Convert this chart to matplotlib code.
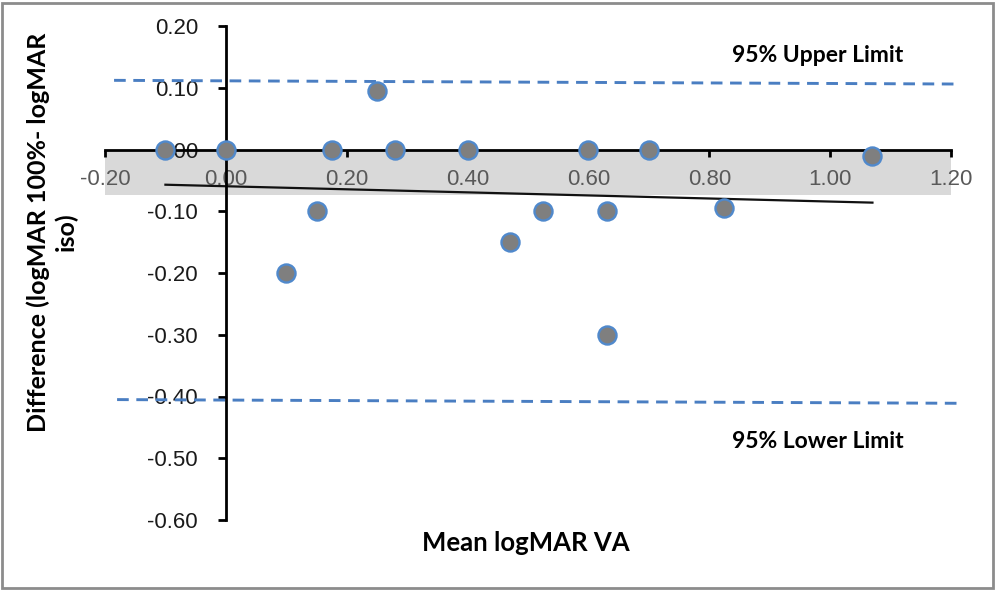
import numpy as np
import matplotlib.pyplot as plt
from matplotlib.patches import Rectangle

# Média e diferença (logMAR)
media = [-0.10, 0.00, 0.10, 0.15, 0.175, 0.25, 0.28, 0.40, 0.47, 0.525,
         0.60, 0.63, 0.63, 0.70, 0.825, 1.07]
diferenca = [0.00, 0.00, -0.20, -0.10, 0.00, 0.095, 0.00, 0.00, -0.15, -0.10,
             0.00, -0.10, -0.30, 0.00, -0.095, -0.01]

# Viés médio (faixa cinza) e limites de concordância
vies = -0.074
lim_sup_x = [-0.185, 1.215]
lim_sup_y = [0.112, 0.106]
lim_inf_x = [-0.18, 1.215]
lim_inf_y = [-0.405, -0.411]

# Linha de tendência (inclinação e intercepto)
tend_a = -0.0248
tend_b = -0.0595

xticks = [-0.20, 0.00, 0.20, 0.40, 0.60, 0.80, 1.00, 1.20]
yticks = [0.20, 0.10, 0.00, -0.10, -0.20, -0.30, -0.40, -0.50, -0.60]

W, H = 998, 591
fig = plt.figure(figsize=(W / 100, H / 100), dpi=100)
ax = fig.add_axes([105 / W, 1 - 520 / H, 846 / W, 494 / H])
ax.set_xlim(-0.20, 1.20)
ax.set_ylim(-0.60, 0.20)

# faixa do viés
ax.fill_between([-0.20, 1.20], 0, vies, color="#d9d9d9", zorder=0, lw=0)

# limites de 95%
azul = "#4a7ec2"
ax.plot(lim_sup_x, lim_sup_y, color=azul, lw=2.1, dashes=(4.0, 2.6), clip_on=False, zorder=2)
ax.plot(lim_inf_x, lim_inf_y, color=azul, lw=2.1, dashes=(4.0, 2.6), clip_on=False, zorder=2)

# linha de tendência
tx = np.array([min(media), max(media)])
ax.plot(tx, tend_a * tx + tend_b, color="#111111", lw=1.6, zorder=3)

# pontos
ax.plot(media, diferenca, "o", ms=13, mfc="#7f7f7f", mec="#5089cc", mew=1.7,
        clip_on=False, zorder=6)

# eixos cruzando em zero
for s in ("top", "right"):
    ax.spines[s].set_visible(False)
ax.spines["left"].set_position(("data", 0))
ax.spines["bottom"].set_position(("data", 0))
for s in ("left", "bottom"):
    ax.spines[s].set_linewidth(2)
    ax.spines[s].set_color("black")
    ax.spines[s].set_zorder(4)

ax.set_xticks(xticks)
ax.set_yticks(yticks)
ax.set_xticklabels([f"{v:.2f}" for v in xticks])
ax.set_yticklabels([f"{v:.2f}" for v in yticks])
ax.tick_params(axis="x", direction="out", length=5, width=2, pad=9,
               labelsize=16, labelcolor="#595959")
ax.tick_params(axis="y", direction="out", length=6, width=2, pad=14,
               labelsize=16, labelcolor="#1a1a1a")
for t in ax.get_xticklabels() + ax.get_yticklabels():
    t.set_fontfamily("Liberation Sans")
ax.patch.set_alpha(0)

fonte = dict(family="Lato", weight="bold", color="black")
fig.text(818 / W, 1 - 55 / H, "95% Upper Limit", ha="center", va="center", fontsize=16.5, **fonte)
fig.text(818 / W, 1 - 441 / H, "95% Lower Limit", ha="center", va="center", fontsize=16.5, **fonte)
fig.text(526 / W, 1 - 543 / H, "Mean logMAR VA", ha="center", va="center", fontsize=18.5, **fonte)
fig.text(52 / W, 1 - 232 / H, "Difference (logMAR 100%- logMAR\niso)", ha="center",
         va="center", rotation=90, multialignment="center", linespacing=1.2,
         fontsize=18, **fonte)

# moldura
fig.patches.append(Rectangle((2 / W, 3 / H), 991 / W, 585 / H, transform=fig.transFigure,
                             fill=False, edgecolor="#8c8c8c", lw=2))

fig.savefig("out.png", dpi=100)
